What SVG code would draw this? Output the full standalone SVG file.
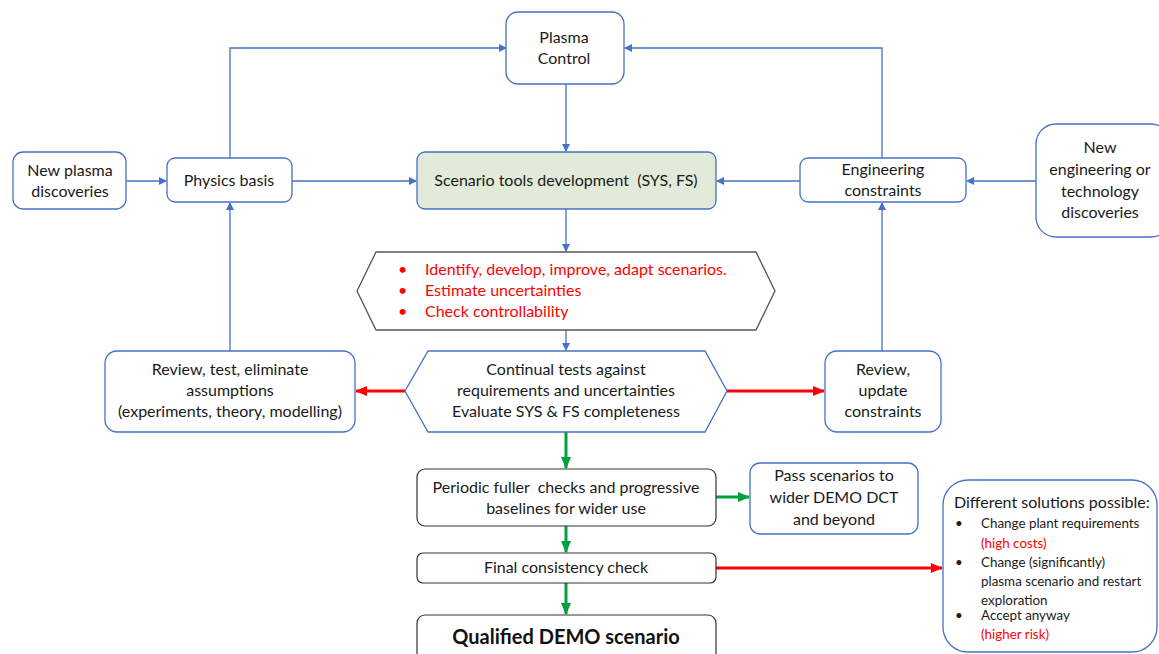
<svg xmlns="http://www.w3.org/2000/svg" width="1159" height="654" viewBox="0 0 1159 654">
<defs>
<style>
.box{fill:#fff;stroke:#4472c4;stroke-width:1.3}
.t{font-family:Lato,"Liberation Sans",sans-serif;font-size:16px;fill:#1a1a1a;text-anchor:middle;white-space:pre}
.s{font-family:Lato,"Liberation Sans",sans-serif;font-size:13.4px;fill:#1a1a1a}
.l{text-anchor:start}
.r{fill:#ff0000}
.bl{stroke:#4472c4;stroke-width:1.3;fill:none}
.rd{stroke:#ff0000;stroke-width:3;fill:none}
.gr{stroke:#00a03c;stroke-width:3;fill:none}
</style>
<marker id="ab" markerWidth="8" markerHeight="8" refX="7" refY="4" orient="auto" markerUnits="userSpaceOnUse"><path d="M0,0 L8,4 L0,8 z" fill="#4472c4"/></marker>
<marker id="ar" markerWidth="12" markerHeight="10" refX="11" refY="5" orient="auto" markerUnits="userSpaceOnUse"><path d="M0,0 L12,5 L0,10 z" fill="#ff0000"/></marker>
<marker id="ag" markerWidth="12" markerHeight="10" refX="11" refY="5" orient="auto" markerUnits="userSpaceOnUse"><path d="M0,0 L12,5 L0,10 z" fill="#00a03c"/></marker>
</defs>
<rect width="1159" height="654" fill="#fff"/>

<g id="connectors">
<path class="bl" d="M126,181 H166" marker-end="url(#ab)"/>
<path class="bl" d="M230,158 V48 H506" marker-end="url(#ab)"/>
<path class="bl" d="M882,158 V48 H625" marker-end="url(#ab)"/>
<path class="bl" d="M566,84 V151" marker-end="url(#ab)"/>
<path class="bl" d="M292,181 H416" marker-end="url(#ab)"/>
<path class="bl" d="M800,181 H717" marker-end="url(#ab)"/>
<path class="bl" d="M1036,181 H967" marker-end="url(#ab)"/>
<path class="bl" d="M566,209 V251" marker-end="url(#ab)"/>
<path class="bl" d="M566,330 V350" marker-end="url(#ab)"/>
<path class="bl" d="M230,351 V203" marker-end="url(#ab)"/>
<path class="bl" d="M882,351 V203" marker-end="url(#ab)"/>
<path class="rd" d="M405,391 H356" marker-end="url(#ar)"/>
<path class="rd" d="M727,391 H824" marker-end="url(#ar)"/>
<path class="gr" d="M566,432 V468" marker-end="url(#ag)"/>
<path class="gr" d="M716,497 H749" marker-end="url(#ag)"/>
<path class="gr" d="M566,526 V552" marker-end="url(#ag)"/>
<path class="rd" d="M716,568 H942" marker-end="url(#ar)"/>
<path class="gr" d="M566,583 V614" marker-end="url(#ag)"/>
</g>

<g id="new-plasma">
<rect class="box" x="13" y="152" width="113" height="57" rx="10"/>
<text class="t" x="70" y="176">New plasma</text>
<text class="t" x="70" y="197">discoveries</text>
</g>
<g id="physics-basis">
<rect class="box" x="167" y="158" width="125" height="44" rx="8"/>
<text class="t" x="229" y="186">Physics basis</text>
</g>
<g id="plasma-control">
<rect class="box" x="506" y="12" width="118" height="72" rx="12"/>
<text class="t" x="564" y="43">Plasma</text>
<text class="t" x="564" y="64">Control</text>
</g>
<g id="scenario-tools">
<rect x="417" y="152" width="299" height="57" rx="8" fill="#e2ebd9" stroke="#4472c4" stroke-width="1.3"/>
<text class="t" x="566" y="186">Scenario tools development  (SYS, FS)</text>
</g>
<g id="engineering-constraints">
<rect class="box" x="800" y="158" width="166" height="44" rx="8"/>
<text class="t" x="883" y="175">Engineering</text>
<text class="t" x="883" y="196">constraints</text>
</g>
<g id="new-engineering">
<rect class="box" x="1036" y="124" width="135" height="113" rx="20"/>
<text class="t" x="1100" y="153">New</text>
<text class="t" x="1100" y="175">engineering or</text>
<text class="t" x="1100" y="197">technology</text>
<text class="t" x="1100" y="218">discoveries</text>
</g>
<g id="identify">
<polygon points="357,291 376,252 756,252 775,291 756,330 376,330" fill="#fff" stroke="#555" stroke-width="1.3"/>
<text x="398" y="275" class="t l r">•</text>
<text x="425" y="275" class="t l r">Identify, develop, improve, adapt scenarios.</text>
<text x="398" y="296" class="t l r">•</text>
<text x="425" y="296" class="t l r">Estimate uncertainties</text>
<text x="398" y="317" class="t l r">•</text>
<text x="425" y="317" class="t l r">Check controllability</text>
</g>
<g id="continual-tests">
<polygon points="405,391 428,351 705,351 727,391 705,432 428,432" class="box"/>
<text class="t" x="566" y="375">Continual tests against</text>
<text class="t" x="566" y="396">requirements and uncertainties</text>
<text class="t" x="566" y="417">Evaluate SYS &amp; FS completeness</text>
</g>
<g id="review-test">
<rect class="box" x="105" y="351" width="250" height="81" rx="12"/>
<text class="t" x="230" y="375">Review, test, eliminate</text>
<text class="t" x="230" y="396">assumptions</text>
<text class="t" x="230" y="417">(experiments, theory, modelling)</text>
</g>
<g id="review-update">
<rect class="box" x="825" y="351" width="116" height="81" rx="12"/>
<text class="t" x="883" y="375">Review,</text>
<text class="t" x="883" y="396">update</text>
<text class="t" x="883" y="417">constraints</text>
</g>
<g id="periodic">
<rect x="417" y="469" width="299" height="57" rx="8" fill="#fff" stroke="#333" stroke-width="1.2"/>
<text class="t" x="566" y="493">Periodic fuller  checks and progressive</text>
<text class="t" x="566" y="514">baselines for wider use</text>
</g>
<g id="pass">
<rect class="box" x="750" y="463" width="168" height="71" rx="10"/>
<text class="t" x="834" y="481">Pass scenarios to</text>
<text class="t" x="834" y="503">wider DEMO DCT</text>
<text class="t" x="834" y="525">and beyond</text>
</g>
<g id="final">
<rect x="417" y="553" width="299" height="30" rx="6" fill="#fff" stroke="#333" stroke-width="1.2"/>
<text class="t" x="566" y="573">Final consistency check</text>
</g>
<g id="qualified">
<rect x="417" y="615" width="299" height="50" rx="8" fill="#fff" stroke="#333" stroke-width="1.2"/>
<text class="t" x="566" y="644" style="font-size:20px;font-weight:bold;fill:#111">Qualified DEMO scenario</text>
</g>
<g id="solutions">
<rect class="box" x="943" y="480" width="214" height="172" rx="25"/>
<text class="t l" x="954" y="508">Different solutions possible:</text>
<text class="s" x="955" y="528">•</text>
<text class="s" x="981" y="528">Change plant requirements</text>
<text class="s r" x="981" y="548">(high costs)</text>
<text class="s" x="955" y="567">•</text>
<text class="s" x="981" y="567">Change (significantly)</text>
<text class="s" x="981" y="586">plasma scenario and restart</text>
<text class="s" x="981" y="605">exploration</text>
<text class="s" x="955" y="620">•</text>
<text class="s" x="981" y="620">Accept anyway</text>
<text class="s r" x="981" y="639">(higher risk)</text>
</g>
</svg>
